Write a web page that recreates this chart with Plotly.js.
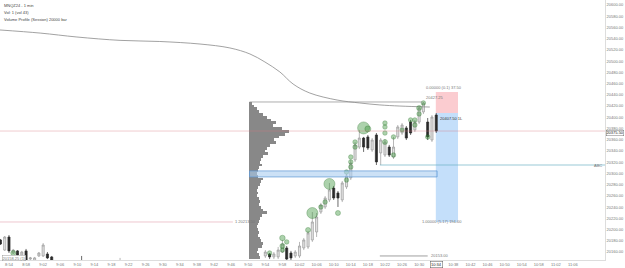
<!DOCTYPE html>
<html><head><meta charset="utf-8">
<script src="https://cdn.plot.ly/plotly-3.0.1.min.js"></script>
<style>html,body{margin:0;padding:0;background:#fff}#c{width:625px;height:268px}</style>
</head><body><div id="c"></div>
<script>
// ---- candle data (bar index, 1-min bars) ----
const barIdx = [-2,-1,0,1,2,3,4,5,6,7,8,9,10,17,26,
 60,61,62,63,64,65,66,67,68,69,70,71,72,73,74,75,76,77,78,79,80,81,82,83,84,85,86,87,88,89,90,91,92,93,94,95,96,97,98,99,100];
const openP = [20181.5,20163.5,20186.75,20158.25,20162,20154.75,20162,20147.5,20144,20153,20153,20156.5,20151.25,20140,20141,
 20153,20156.5,20151.25,20151.25,20160,20167.25,20158.25,20153,20153,20167.25,20169,20181.5,20195.75,20231.25,20240.25,20252.75,20274,20265.25,20252.75,20276,20292,20324,20347,20363,20365,20341.75,20368.5,20336.5,20332.75,20347,20329.25,20365,20372,20381,20391.5,20377.5,20391.5,20409.5,20391.5,20359.5,20404];
const highP = [20183.25,20188.5,20190.25,20165.5,20163.5,20162,20165.5,20151.25,20151.25,20160,20176,20160,20153,20153,20149.5,
 20163.5,20158.25,20160,20169,20181.5,20170.75,20162,20163.5,20178,20185,20197.5,20231.25,20229.5,20247.5,20259.75,20283,20277.75,20268.75,20286.5,20299,20324,20356,20377.5,20365,20368.5,20363,20372,20363,20361.25,20350.75,20365,20386.25,20389.75,20384.5,20395.25,20395.25,20420,20427.25,20398.75,20404,20407.5];
const lowP = [20172.5,20162,20158.25,20156.5,20153,20153,20142.25,20144,20142.25,20151.25,20151.25,20147.5,20140.5,20130,20135,
 20149.5,20147.5,20147.5,20147.5,20158.25,20144,20145.75,20149.5,20149.5,20163.5,20165.5,20178,20186.75,20227.75,20236.75,20249,20252.75,20240.25,20249,20272.25,20288.25,20320.5,20343.5,20338.25,20341.75,20338.25,20315,20315,20329.25,20329.25,20325.75,20361.25,20368.5,20359.5,20368.5,20373.75,20388,20405.75,20359.5,20356,20372];
const closeP = [20174.25,20186.75,20162,20163.5,20154.75,20160,20145.75,20149.5,20149.5,20158.25,20172.5,20149.5,20144,20138,20143,
 20160,20151.25,20156.5,20163.5,20174.25,20147.5,20149.5,20160,20170.75,20181.5,20194,20213.5,20222.5,20243.75,20256.25,20270.5,20256.25,20256.25,20283,20295.5,20318.5,20350.75,20363,20347,20345.25,20359.5,20320.5,20359.5,20356,20332.75,20347,20382.75,20386.25,20363,20372,20391.5,20416.5,20425.5,20365,20400.5,20375.5];

// ---- VWAP line ----
const vwapIdx = [-2.1,7.3,15.9,26,35.3,44.7,51.7,56.4,59.9,63.4,66.5,70.4,76.8,82.1,86.8,91.5,98.5];
const vwapP = [20555.5,20550,20543,20537,20535,20530.5,20523.5,20512.75,20498.5,20480.75,20459.25,20443.25,20430.75,20425.5,20422,20420,20418.25];

// ---- trade bubbles ----
const bubIdx = [1,61,64,64,65,64,70,71,73,74,75,77,79,79,80,80,80,81,81,83,84,88,88,88,88,90,90,92,94,95,95,96,96,97,98];
const bubP = [20158.25,20158.25,20163.5,20170.75,20178,20185,20199.25,20229.5,20240.25,20249,20281.25,20229.5,20288.25,20302.5,20311.5,20320.5,20329.25,20347,20356,20381,20379.25,20382.75,20389.75,20372,20356,20332.75,20365,20377.5,20395.25,20386.25,20395.25,20406,20416.5,20425.5,20365];
const bubVol = [6,5,5,6,5,7,6,22,5,5,22,6,5,5,5,5,5,5,5,24,8,5,5,5,6,5,5,4,5,5,5,5,6,5,5];

// ---- volume profile ----
const profPrice = [20425,20420,20415,20410,20405,20400,20395,20390,20385,20380,20375,20370,20365,20360,20355,20350,20345,20340,20335,20330,20325,20320,20315,20310,20305,20300,20295,20290,20285,20280,20275,20270,20265,20260,20255,20250,20245,20240,20235,20230,20225,20220,20215,20210,20205,20200,20195,20190,20185,20180,20175,20170,20165,20160,20155,20150];
const profVol = [150,250,400,500,700,900,1100,1350,1200,1650,2000,1800,1500,1250,1350,1050,900,800,950,700,600,550,650,500,450,400,450,700,600,550,450,400,450,400,500,550,500,600,700,900,650,550,500,450,400,450,500,450,550,600,700,650,450,400,500,550];

// ---- levels / drawings ----
const lastPrice = 20375.5;
const profileHigh = 20427.25;
const zoneTop = 20304.5, zoneBot = 20293.75;
const abcLevel = 20315;
const lowLevel = 20153;
const leftLevel = 20213.5;
const posEntry = 20407.5, posStop = 20445, posTarget = 20213.5;
const posStart = 99.9, posEnd = 105.1;
const profStart = 56.3, zoneEnd = 100.2, levelStart = 86.8;

// ---- axes labels ----
const tickIdx = [0,4,8,12,16,20,24,28,32,36,40,44,48,52,56,60,64,68,72,76,80,84,88,92,96,100,104,108,112,116,120,124,128,132];
const tickText = ["8:54","8:58","9:02","9:06","9:10","9:14","9:18","9:22","9:26","9:30","9:34","9:38","9:42","9:46","9:50","9:54","9:58","10:02","10:06","10:10","10:14","10:18","10:22","10:26","10:30","10:34","10:38","10:42","10:46","10:50","10:54","10:58","11:02","11:06"];
const priceTicks = [20160,20180,20200,20220,20240,20260,20280,20300,20320,20340,20360,20380,20400,20420,20440,20460,20480,20500,20520,20540,20560,20580,20600];
const titleLines = ["MNQZ24 - 1 min","Vol: 1 (vol 43)","Volume Profile (Session) 20000 bar"];

const F = "Liberation Sans, Arial, sans-serif";
const small = {family:F, size:4, color:'#777'};

const traces = [
 {type:'bar', orientation:'h', y:profPrice, x:profVol, width:5, xaxis:'x2', yaxis:'y',
  marker:{color:'#888888', line:{width:0}}, hoverinfo:'skip'},
 {type:'scatter', mode:'lines', x:vwapIdx, y:vwapP, line:{color:'#8a8a8a', width:0.8, shape:'spline'}, hoverinfo:'skip'},
 {type:'candlestick', x:barIdx, open:openP, high:highP, low:lowP, close:closeP,
  increasing:{fillcolor:'#e2e2e2', line:{color:'#9a9a9a', width:0.7}},
  decreasing:{fillcolor:'#2b2b2b', line:{color:'#2b2b2b', width:0.7}},
  whiskerwidth:0, hoverinfo:'skip'},
 {type:'scatter', mode:'markers', x:bubIdx, y:bubP,
  marker:{size:bubVol.map(v=>v>10 ? v/2 : v/2+2), color:'rgba(60,150,60,0.6)', line:{color:'rgba(25,105,25,0.9)', width:0.5}}, hoverinfo:'skip'}
];

const shapes = [
 {type:'line', xref:'paper', x0:0, x1:1, yref:'y', y0:lastPrice, y1:lastPrice, line:{color:'rgba(215,120,130,0.55)', width:0.7}},
 {type:'line', xref:'x', x0:profStart, x1:96.7, yref:'y', y0:profileHigh, y1:profileHigh, line:{color:'#8a8a8a', width:0.7}},
 {type:'rect', xref:'x', x0:profStart, x1:zoneEnd, yref:'y', y0:zoneBot, y1:zoneTop, fillcolor:'rgba(170,205,240,0.6)', line:{color:'#5c96d6', width:0.7}},
 {type:'line', xref:'x', x0:levelStart, x1:139.5, yref:'y', y0:abcLevel, y1:abcLevel, line:{color:'#6fb3c4', width:0.7}},
 {type:'line', xref:'x', x0:levelStart, x1:98, yref:'y', y0:lowLevel, y1:lowLevel, line:{color:'#777', width:0.7}},
 {type:'line', xref:'x', x0:-2.1, x1:52.4, yref:'y', y0:leftLevel, y1:leftLevel, line:{color:'rgba(215,120,140,0.6)', width:0.7}},
 {type:'rect', layer:'below', xref:'x', x0:posStart, x1:posEnd, yref:'y', y0:posEntry, y1:posStop, fillcolor:'rgba(250,195,200,0.85)', line:{width:0}},
 {type:'rect', layer:'below', xref:'x', x0:posStart, x1:posEnd, yref:'y', y0:posTarget, y1:posEntry, fillcolor:'rgba(190,220,250,0.9)', line:{width:0}}
];

const ann = [];
titleLines.forEach((t,i)=>ann.push({xref:'paper', yref:'paper', x:0.004, y:1-0.005-i*0.027, xanchor:'left', yanchor:'top', text:t, showarrow:false, font:{family:F, size:4, color:'#444'}}));
ann.push({xref:'x', yref:'y', x:97.2, y:profileHigh, xanchor:'left', yanchor:'bottom', text:'20427.25', showarrow:false, font:small});
ann.push({xref:'x', yref:'y', x:98.3, y:lowLevel, xanchor:'left', yanchor:'middle', text:'20153.00', showarrow:false, font:small});
ann.push({xref:'x', yref:'y', x:52.4, y:leftLevel, xanchor:'left', yanchor:'middle', text:'1 20213.50', showarrow:false, font:small});
ann.push({xref:'paper', yref:'y', x:0.998, y:abcLevel, xanchor:'right', yanchor:'middle', text:'ABC', showarrow:false, font:small});
ann.push({xref:'x', yref:'y', x:(posStart+posEnd)/2 - 0.6, y:posStop, xanchor:'center', yanchor:'bottom', text:'0.00000 (0.1) 37.50', showarrow:false, font:small});
ann.push({xref:'x', yref:'y', x:(posStart+posEnd)/2 - 1.2, y:posTarget, xanchor:'center', yanchor:'middle', text:'1.00000 (5.17) 194.00', showarrow:false, font:small});
ann.push({xref:'x', yref:'y', x:100.3, y:20397, xanchor:'left', yanchor:'middle', text:'20407.50 1L', showarrow:false, font:{family:F,size:4,color:'#333'}});
ann.push({xref:'x', yref:'y', x:-1.6, y:20149.5, xanchor:'left', yanchor:'middle', text:'20158.25 (1)', showarrow:false, font:small, bgcolor:'#fff', bordercolor:'#999', borderwidth:0.5, borderpad:0});
ann.push({xref:'paper', yref:'y', x:1, xshift:1, yshift:-2, y:lastPrice, xanchor:'left', yanchor:'middle', text:'20375.50', showarrow:false, font:{family:F,size:4,color:'#222'}, bgcolor:'#fff', bordercolor:'#555', borderwidth:0.4, borderpad:0});
ann.push({xref:'x', yref:'paper', x:100, y:0, yshift:-1, xanchor:'center', yanchor:'top', text:'10:34', showarrow:false, font:{family:F,size:4,color:'#222'}, bgcolor:'#fff', bordercolor:'#555', borderwidth:0.5, borderpad:0.5});

const layout = {
 width:625, height:268, margin:{l:0, r:20, t:0, b:8},
 paper_bgcolor:'#fff', plot_bgcolor:'#fff', showlegend:false, dragmode:false,
 xaxis:{range:[-2.1,139.5], tickvals:tickIdx, ticktext:tickText, tickfont:small, ticks:'', showgrid:false, zeroline:false,
  showline:true, linecolor:'#cfcfcf', linewidth:0.7, rangeslider:{visible:false}, fixedrange:true, ticklabelstandoff:0},
 xaxis2:{overlaying:'x', range:[-12450,17800], visible:false, fixedrange:true},
 yaxis:{side:'right', range:[20145.8,20608.9], tickvals:priceTicks, tickformat:'.2f', tickfont:small, ticks:'', showgrid:false,
  zeroline:false, showline:true, linecolor:'#cfcfcf', linewidth:0.7, fixedrange:true},
 shapes:shapes, annotations:ann, bargap:0
};
Plotly.newPlot('c', traces, layout, {staticPlot:true, displayModeBar:false});
</script></body></html>
